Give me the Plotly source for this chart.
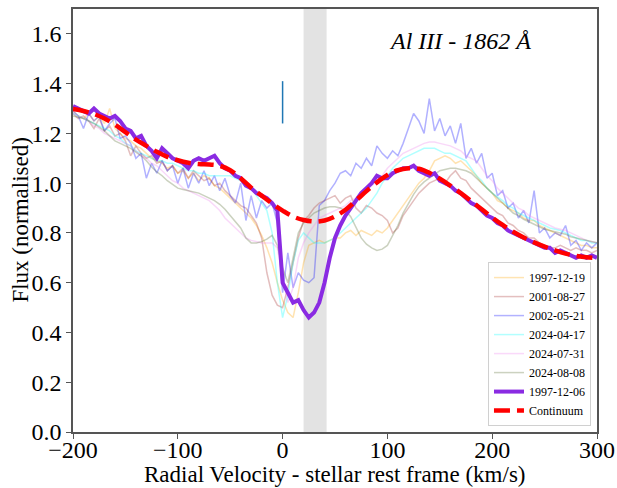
import plotly.graph_objects as go

# Velocity grid (km/s) for the observed spectra
VEL = [-200, -195, -190, -185, -180, -175, -170, -165, -160, -155,
       -150, -145, -140, -135, -130, -125, -120, -115, -110, -105,
       -100, -95, -90, -85, -80, -75, -70, -65, -60, -55,
       -50, -45, -40, -35, -30, -25, -20, -15, -10, -5,
       0, 5, 10, 15, 20, 25, 30, 35, 40, 45,
       50, 55, 60, 65, 70, 75, 80, 85, 90, 95,
       100, 105, 110, 115, 120, 125, 130, 135, 140, 145,
       150, 155, 160, 165, 170, 175, 180, 185, 190, 195,
       200, 205, 210, 215, 220, 225, 230, 235, 240, 245,
       250, 255, 260, 265, 270, 275, 280, 285, 290, 295, 300]

F_19971219 = [1.29, 1.27, 1.26, 1.28, 1.25, 1.27, 1.24, 1.30, 1.22, 1.20,
              1.18, 1.17, 1.15, 1.14, 1.12, 1.10, 1.09, 1.08, 1.06, 1.07,
              1.04, 1.05, 1.02, 1.04, 1.01, 1.03, 1.02, 0.99, 0.98, 0.96,
              0.94, 0.92, 0.90, 0.88, 0.86, 0.83, 0.79, 0.74, 0.68, 0.60,
              0.53, 0.48, 0.46, 0.56, 0.68, 0.75, 0.76, 0.77, 0.76, 0.77,
              0.78, 0.78, 0.80, 0.81, 0.79, 0.81, 0.80, 0.79, 0.81, 0.80,
              0.82, 0.85, 0.88, 0.91, 0.94, 0.97, 1.00, 1.02, 1.05, 1.09,
              1.10, 1.11, 1.10, 1.08, 1.09, 1.07, 1.05, 1.03, 1.00, 0.98,
              0.96, 0.93, 0.92, 0.90, 0.89, 0.88, 0.86, 0.85, 0.85, 0.83,
              0.82, 0.81, 0.80, 0.79, 0.78, 0.77, 0.76, 0.75, 0.75, 0.74, 0.74]

F_20010827 = [1.28, 1.26, 1.27, 1.25, 1.22, 1.26, 1.21, 1.23, 1.19, 1.20,
              1.17, 1.11, 1.15, 1.12, 1.10, 1.11, 1.08, 1.09, 1.05, 1.07,
              1.04, 1.06, 1.02, 1.05, 1.03, 1.01, 1.02, 0.99, 1.00, 0.97,
              0.95, 0.93, 0.91, 0.90, 0.87, 0.84, 0.78, 0.64, 0.55, 0.51,
              0.50, 0.58, 0.68, 0.78, 0.85, 0.87, 0.90, 0.92, 0.93, 0.94,
              0.95, 0.92, 0.94, 0.95, 0.90, 0.88, 0.91, 0.90, 0.88, 0.87,
              0.85, 0.80, 0.82, 0.87, 0.90, 0.93, 0.96, 0.98, 1.00, 1.01,
              1.02, 1.00, 1.03, 1.05, 1.02, 1.01, 0.98, 0.96, 0.94, 0.92,
              0.90, 0.88, 0.87, 0.84, 0.83, 0.81, 0.80, 0.78, 0.78, 0.76,
              0.75, 0.74, 0.74, 0.75, 0.74, 0.73, 0.74, 0.73, 0.73, 0.72, 0.73]

F_20020521 = [1.29, 1.27, 1.22, 1.28, 1.25, 1.27, 1.21, 1.24, 1.26, 1.18,
              1.19, 1.16, 1.10, 1.12, 1.02, 1.08, 1.04, 1.09, 1.05, 1.07,
              1.00, 1.06, 0.98, 1.04, 1.00, 1.05, 0.99, 1.03, 0.97, 1.02,
              0.95, 0.92, 1.00, 0.85, 0.95, 0.86, 0.93, 0.90, 0.92, 0.84,
              0.56, 0.72, 0.58, 0.64, 0.61, 0.60, 0.62, 0.91, 0.93, 0.97,
              1.00, 1.04, 1.05, 1.03, 1.08, 1.06, 1.10, 1.07, 1.15, 1.12,
              1.10, 1.13, 1.11, 1.16, 1.22, 1.28, 1.25, 1.20, 1.34, 1.21,
              1.26, 1.19, 1.23, 1.16, 1.24, 1.10, 1.14, 1.08, 1.12, 1.02,
              1.04, 0.95, 0.97, 0.90, 0.92, 0.86, 0.89, 0.84, 0.97, 0.80,
              0.82, 0.78, 0.80, 0.79, 0.83, 0.75, 0.77, 0.73, 0.76, 0.74, 0.76]

F_20240417 = [1.28, 1.27, 1.26, 1.25, 1.24, 1.23, 1.22, 1.21, 1.19, 1.18,
              1.16, 1.15, 1.13, 1.12, 1.11, 1.10, 1.09, 1.09, 1.08, 1.08,
              1.07, 1.06, 1.05, 1.05, 1.04, 1.04, 1.03, 1.03, 1.03, 1.03,
              1.03, 1.02, 1.01, 1.00, 0.98, 0.95, 0.92, 0.89, 0.80, 0.60,
              0.46, 0.55, 0.68, 0.77, 0.80, 0.78, 0.76, 0.76, 0.76, 0.77,
              0.78, 0.80, 0.82, 0.84, 0.86, 0.88, 0.90, 0.93, 0.96, 1.00,
              1.03, 1.06, 1.08, 1.10, 1.11, 1.12, 1.13, 1.14, 1.14, 1.14,
              1.13, 1.12, 1.12, 1.11, 1.10, 1.09, 1.06, 1.03, 1.01, 0.98,
              0.96, 0.945, 0.93, 0.91, 0.90, 0.88, 0.87, 0.86, 0.85, 0.84,
              0.83, 0.82, 0.815, 0.81, 0.80, 0.79, 0.78, 0.77, 0.77, 0.76, 0.76]

F_20240731 = [1.28, 1.27, 1.26, 1.25, 1.23, 1.22, 1.20, 1.19, 1.18, 1.17,
              1.16, 1.15, 1.13, 1.11, 1.10, 1.08, 1.07, 1.05, 1.03, 1.01,
              1.00, 0.98, 0.97, 0.96, 0.95, 0.94, 0.93, 0.91, 0.89, 0.86,
              0.84, 0.82, 0.80, 0.78, 0.77, 0.765, 0.76, 0.76, 0.76, 0.74,
              0.62, 0.52, 0.58, 0.70, 0.76, 0.80, 0.83, 0.86, 0.87, 0.88,
              0.89, 0.90, 0.91, 0.93, 0.94, 0.96, 0.97, 0.99, 1.01, 1.03,
              1.06, 1.08, 1.10, 1.12, 1.13, 1.14, 1.15, 1.16, 1.165, 1.165,
              1.16, 1.155, 1.15, 1.14, 1.13, 1.11, 1.10, 1.09, 1.06, 1.03,
              1.01, 0.98, 0.96, 0.94, 0.92, 0.90, 0.89, 0.87, 0.86, 0.85,
              0.84, 0.83, 0.82, 0.815, 0.81, 0.80, 0.79, 0.78, 0.77, 0.765, 0.76]

F_20240808 = [1.27, 1.265, 1.26, 1.25, 1.24, 1.225, 1.21, 1.19, 1.17, 1.16,
              1.15, 1.14, 1.125, 1.11, 1.09, 1.065, 1.045, 1.03, 1.01, 0.995,
              0.98, 0.975, 0.97, 0.965, 0.96, 0.95, 0.94, 0.93, 0.915, 0.895,
              0.87, 0.845, 0.82, 0.78, 0.76, 0.76, 0.765, 0.775, 0.79, 0.75,
              0.66, 0.60, 0.70, 0.80, 0.84, 0.86, 0.88, 0.89, 0.90, 0.905,
              0.905, 0.90, 0.89, 0.865, 0.82, 0.78, 0.755, 0.74, 0.73, 0.735,
              0.75, 0.79, 0.83, 0.88, 0.92, 0.955, 0.985, 1.005, 1.02, 1.035,
              1.05, 1.055, 1.06, 1.06, 1.055, 1.05, 1.04, 1.02, 1.00, 0.98,
              0.96, 0.94, 0.92, 0.90, 0.88, 0.87, 0.855, 0.845, 0.835, 0.825,
              0.815, 0.81, 0.805, 0.80, 0.795, 0.785, 0.78, 0.775, 0.77, 0.765, 0.76]

F_19971206 = [1.31, 1.30, 1.29, 1.28, 1.30, 1.28, 1.27, 1.26, 1.27, 1.25,
              1.22, 1.21, 1.18, 1.19, 1.15, 1.13, 1.10, 1.14, 1.12, 1.10,
              1.09, 1.08, 1.06, 1.09, 1.10, 1.09, 1.10, 1.11, 1.08, 1.06,
              1.05, 1.03, 1.02, 0.99, 0.98, 0.96, 0.95, 0.94, 0.92, 0.89,
              0.60, 0.56, 0.52, 0.53, 0.49, 0.46, 0.48, 0.52, 0.60, 0.70,
              0.78, 0.83, 0.87, 0.90, 0.93, 0.96, 0.98, 1.00, 1.03, 1.02,
              1.02, 1.04, 1.05, 1.06, 1.06, 1.07, 1.05, 1.04, 1.03, 1.04,
              1.01, 1.00, 0.99, 0.97, 0.96, 0.94, 0.92, 0.91, 0.89, 0.87,
              0.86, 0.84, 0.83, 0.81, 0.80, 0.79, 0.78, 0.77, 0.76, 0.75,
              0.74, 0.74, 0.72, 0.73, 0.72, 0.71, 0.70, 0.71, 0.70, 0.71, 0.70]

# Continuum (smooth fit)
VEL_CONT = [-200, -190, -180, -170, -160, -150, -140, -130, -120, -110,
            -100, -90, -80, -70, -60, -50, -40, -30, -20, -10,
            0, 10, 20, 30, 40, 50, 60, 70, 80, 90,
            100, 110, 120, 130, 140, 150, 160, 170, 180, 190,
            200, 210, 220, 230, 240, 250, 260, 270, 280, 290, 300]
CONTINUUM = [1.298, 1.290, 1.278, 1.260, 1.235, 1.205, 1.175, 1.150, 1.126, 1.106,
             1.092, 1.082, 1.077, 1.075, 1.070, 1.052, 1.020, 0.982, 0.950, 0.918,
             0.890, 0.866, 0.852, 0.846, 0.850, 0.866, 0.893, 0.930, 0.968, 1.003,
             1.033, 1.052, 1.060, 1.058, 1.042, 1.018, 0.990, 0.960, 0.928, 0.895,
             0.862, 0.832, 0.805, 0.782, 0.762, 0.745, 0.730, 0.717, 0.708, 0.702, 0.700]

# Marker line at 0 km/s
MARK_X = [0, 0]
MARK_Y = [1.24, 1.41]
# Shaded band (km/s)
BAND = [20, 42]

EPOCHS = ["1997-12-19", "2001-08-27", "2002-05-21", "2024-04-17", "2024-07-31", "2024-08-08"]
SERIES = [F_19971219, F_20010827, F_20020521, F_20240417, F_20240731, F_20240808]
COLORS = ["#ffa500", "#a52a2a", "#0000ff", "#00ffff", "#ee82ee", "#556b2f"]

X_TITLE = "Radial Velocity - stellar rest frame (km/s)"
Y_TITLE = "Flux (normalised)"
LINE_LABEL = "<i>Al III - 1862 Å</i>"

FONT = "Liberation Serif, Times New Roman, serif"

fig = go.Figure()

fig.add_vrect(x0=BAND[0], x1=BAND[1], fillcolor="#e3e3e3", line_width=0, layer="below")

fig.add_trace(go.Scatter(x=MARK_X, y=MARK_Y, mode="lines",
                         line=dict(color="#1f77b4", width=1.5), showlegend=False,
                         hoverinfo="skip"))

for name, ys, c in zip(EPOCHS, SERIES, COLORS):
    fig.add_trace(go.Scatter(x=VEL, y=ys, mode="lines", name=name,
                             line=dict(color=c, width=1.5), opacity=0.3))

fig.add_trace(go.Scatter(x=VEL, y=F_19971206, mode="lines", name="1997-12-06",
                         line=dict(color="#8a2be2", width=4)))

fig.add_trace(go.Scatter(x=VEL_CONT, y=CONTINUUM, mode="lines", name="Continuum",
                         line=dict(color="#ff0000", width=4.5, dash="16px,7px", shape="spline")))

fig.add_annotation(x=0.739, y=0.924, xref="paper", yref="paper",
                   xanchor="center", yanchor="middle",
                   text=LINE_LABEL, showarrow=False,
                   font=dict(family=FONT, size=24, color="black"))

# axis titles
fig.add_annotation(x=0.5, y=-0.101, xref="paper", yref="paper",
                   xanchor="center", yanchor="middle", text=X_TITLE, showarrow=False,
                   font=dict(family=FONT, size=23, color="black"))
fig.add_annotation(x=-0.101, y=0.5, xref="paper", yref="paper",
                   xanchor="center", yanchor="middle", text=Y_TITLE, showarrow=False,
                   textangle=-90, font=dict(family=FONT, size=23, color="black"))

axis_common = dict(showline=True, linecolor="#555555", linewidth=1.5, mirror=True,
                   ticks="outside", ticklen=5, tickwidth=1.2, tickcolor="#555555",
                   showgrid=False, zeroline=False, automargin=False,
                   tickfont=dict(family=FONT, size=24, color="black"))

fig.update_xaxes(range=[-200, 300], dtick=100, tick0=0, ticklabelstandoff=-10,
                 **axis_common)
fig.update_yaxes(range=[0, 1.7], dtick=0.2, tick0=0, tickformat=".1f",
                 **axis_common)

fig.update_layout(
    width=617, height=488,
    margin=dict(l=73, r=20, t=9, b=56),
    plot_bgcolor="white", paper_bgcolor="white",
    font=dict(family=FONT, color="black"),
    legend=dict(x=0.9885, y=0.014, xanchor="right", yanchor="bottom",
                bgcolor="white", bordercolor="#d0d0d0", borderwidth=1,
                font=dict(family=FONT, size=12, color="black"),
                tracegroupgap=0, itemwidth=30),
)

fig.write_html("out.html")
